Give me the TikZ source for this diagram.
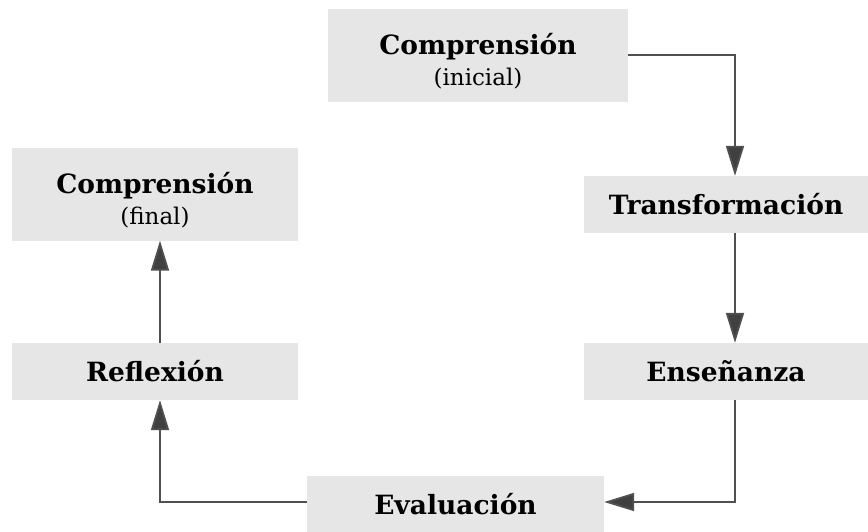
\documentclass[tikz,border=0pt]{standalone}
\usepackage{fontspec}
\setmainfont{DejaVu Serif}
\usetikzlibrary{arrows.meta}
\definecolor{boxgray}{HTML}{E6E6E6}
\definecolor{linegray}{HTML}{505050}
\newcommand{\stagenote}[1]{{\fontsize{23}{26}\selectfont\mdseries #1}}
\newcommand{\toppad}{\rule{0pt}{33pt}}
\begin{document}
\begin{tikzpicture}[x=1pt,y=-1pt,
  stage/.style={fill=boxgray, draw=none, inner sep=0pt, align=center,
    font=\fontsize{26.5}{32}\selectfont\bfseries},
  flow/.style={draw=linegray, line width=1.8pt,
    -{Triangle[length=30pt,width=18pt,fill=linegray!80!black]}}
]
\useasboundingbox (0,0) rectangle (868,531);

% stages of the cycle
\node[stage, minimum width=300pt, minimum height=93pt] (ini) at (478,55)
  {\toppad Comprensión\\[-1pt]\stagenote{(inicial)}};
\node[stage, minimum width=284pt, minimum height=57pt] (tra) at (726,204.5)
  {Transformación};
\node[stage, minimum width=284pt, minimum height=57pt] (ens) at (726,371.5)
  {Enseñanza};
\node[stage, minimum width=297pt, minimum height=56pt] (eva) at (455.5,504)
  {Evaluación};
\node[stage, minimum width=286pt, minimum height=57pt] (ref) at (155,371.5)
  {Reflexión};
\node[stage, minimum width=286pt, minimum height=93pt] (fin) at (155,194)
  {\toppad Comprensión\\[-1pt]\stagenote{(final)}};

% connectors
\draw[flow] (ini.east) -| ([xshift=9pt]tra.north);
\draw[flow] ([xshift=9pt]tra.south) -- ([xshift=9pt]ens.north);
\draw[flow] ([xshift=9pt]ens.south) |- ([yshift=2pt]eva.east);
\draw[flow] ([yshift=2pt]eva.west) -| ([xshift=5pt]ref.south);
\draw[flow] ([xshift=5pt]ref.north) -- ([xshift=5pt]fin.south);
\end{tikzpicture}
\end{document}
